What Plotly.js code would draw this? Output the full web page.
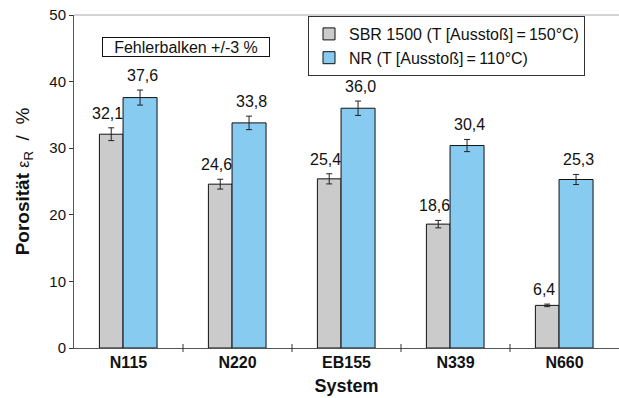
<!DOCTYPE html>
<html>
<head>
<meta charset="utf-8">
<script src="https://cdn.plot.ly/plotly-3.0.1.min.js"></script>
<style>html,body{margin:0;padding:0;background:#fff;}#chart{width:619px;height:398px;}</style>
</head>
<body>
<div id="chart"></div>
<script>
const categories = ['N115', 'N220', 'EB155', 'N339', 'N660'];
const sbrValues = [32.1, 24.6, 25.4, 18.6, 6.4];
const nrValues = [37.6, 33.8, 36.0, 30.4, 25.3];
const sbrName = 'SBR 1500 (T [Ausstoß]\u2009=\u2009150°C)';
const nrName = 'NR (T [Ausstoß]\u2009=\u2009110°C)';
const errorPercent = 3;
const yTicks = [0, 10, 20, 30, 40, 50];

const FONT = 'Liberation Sans, Arial, Helvetica, sans-serif';
const gray = '#cbcbcb', blue = '#88cbf1';
const sbrW = 0.217, sbrOff = -0.267;
const nrW = 0.312, nrOff = -0.05;
const idx = categories.map((c, i) => i);

const errStyle = {type: 'percent', value: errorPercent, visible: true, color: '#222', thickness: 1, width: 3};

const traces = [
  {type: 'bar', name: sbrName, x: idx, y: sbrValues, width: sbrW, offset: sbrOff,
   marker: {color: gray, line: {color: '#111', width: 1}}, error_y: errStyle},
  {type: 'bar', name: nrName, x: idx, y: nrValues, width: nrW, offset: nrOff,
   marker: {color: blue, line: {color: '#111', width: 1}}, error_y: errStyle}
];

const fmt = v => v.toFixed(1).replace('.', ',');
const annotations = [];
sbrValues.forEach((v, i) => annotations.push({x: i + sbrOff + sbrW / 2 - 0.03, y: v * (1 + errorPercent / 100), xref: 'x', yref: 'y',
  text: fmt(v), showarrow: false, yanchor: 'bottom', yshift: 4, font: {family: FONT, size: 16, color: '#111'}}));
nrValues.forEach((v, i) => annotations.push({x: i + nrOff + nrW / 2 + 0.02, y: v * (1 + errorPercent / 100), xref: 'x', yref: 'y',
  text: fmt(v), showarrow: false, yanchor: 'bottom', yshift: 4, font: {family: FONT, size: 16, color: '#111'}}));
annotations.push({xref: 'paper', yref: 'paper', x: (186 - 74) / 545, y: (348.3 - 47.5) / 333.3,
  text: 'Fehlerbalken +/-3 %', showarrow: false, xanchor: 'center', yanchor: 'middle',
  width: 166, height: 18, bordercolor: '#111', borderwidth: 1, borderpad: 0, bgcolor: '#fff',
  font: {family: FONT, size: 16, color: '#111'}});

const layout = {
  width: 619, height: 398,
  margin: {l: 74, r: 0, t: 15, b: 50},
  paper_bgcolor: '#fff', plot_bgcolor: '#fff',
  font: {family: FONT, size: 15, color: '#111'},
  barmode: 'overlay',
  showlegend: true,
  legend: {x: (308 - 74) / 545, y: (348.3 - 16) / 333.3, xanchor: 'left', yanchor: 'top',
    bgcolor: '#fff', bordercolor: '#333', borderwidth: 1, tracegroupgap: 0,
    font: {family: FONT, size: 16, color: '#111'}},
  xaxis: {
    type: 'linear', range: [-0.5, categories.length - 0.5],
    tickmode: 'array', tickvals: idx, ticktext: categories.map(c => '<b>' + c + '</b>'),
    ticks: '', showgrid: false, zeroline: false,
    showline: true, linecolor: '#555', linewidth: 1,
    tickfont: {family: FONT, size: 16, color: '#111'},
    title: {text: '<b>System</b>', font: {family: FONT, size: 18, color: '#111'}, standoff: 9}
  },
  yaxis: {
    range: [0, 50], tickmode: 'array', tickvals: yTicks, ticktext: yTicks.map(String),
    ticks: 'outside', ticklen: 4, tickcolor: '#333', tickwidth: 1,
    showgrid: false, zeroline: false, showline: true, linecolor: '#555', linewidth: 1,
    tickfont: {family: FONT, size: 15, color: '#111'},
    title: {text: '<b>Porosität</b> <span style="font-size:16px">ε</span><sub>R</sub>  /  %',
      font: {family: FONT, size: 19, color: '#111'}, standoff: 14}
  },
  shapes: [
    ...categories.slice(1).map((c, i) => ({type: 'line', xref: 'x', yref: 'paper', x0: i + 0.5, x1: i + 0.5, y0: -0.012, y1: 0.012, line: {color: '#333', width: 1}})),
    {type: 'line', xref: 'paper', yref: 'paper', x0: 0, x1: 1, y0: 1, y1: 1, line: {color: '#aaa', width: 1}}
  ],
  annotations: annotations
};

Plotly.newPlot('chart', traces, layout, {displayModeBar: false, staticPlot: true});
</script>
</body>
</html>
